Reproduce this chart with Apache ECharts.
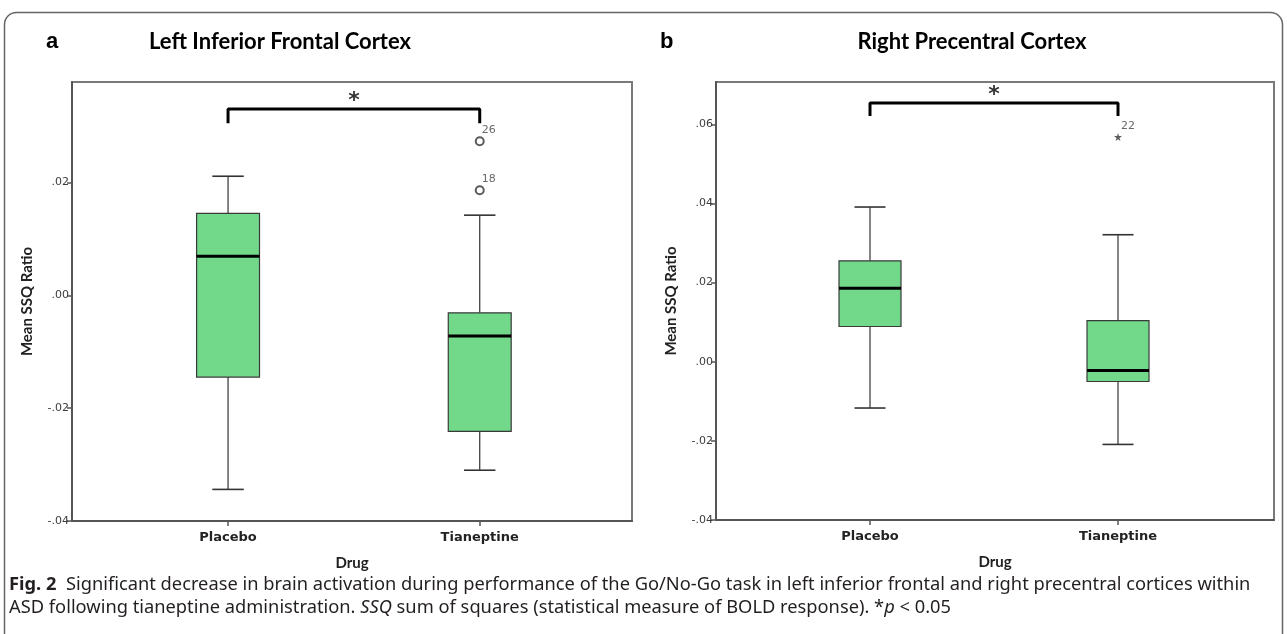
<!DOCTYPE html>
<html>
<head>
<meta charset="utf-8">
<script src="https://cdn.jsdelivr.net/npm/echarts@6/dist/echarts.min.js"></script>
<style>
html,body{margin:0;padding:0;background:#fff;}
#chart{width:1287px;height:634px;}
</style>
</head>
<body>
<div id="chart"></div>
<script>
// ---- data ----
const categories = ['Placebo', 'Tianeptine'];
// [min, Q1, median, Q3, max]
const leftStats = [
  [-0.0344, -0.0145, 0.0069, 0.0145, 0.0211],
  [-0.0310, -0.0241, -0.0072, -0.0031, 0.0142]
];
const rightStats = [
  [-0.0117, 0.0089, 0.0186, 0.0255, 0.0391],
  [-0.0209, -0.0050, -0.0022, 0.0104, 0.0321]
];
// outliers: [categoryIndex, value, case label]
const leftOutliers = [[1, 0.0273, '26'], [1, 0.0186, '18']];
const rightOutliers = [[1, 0.0568, '22']];
// significance brackets: [low end, top]
const leftBracket = [0.0305, 0.0330];
const rightBracket = [0.0621, 0.0654];
const leftStarY = 0.0343;
const rightStarY = 0.0673;
const leftTicks = [-0.04, -0.02, 0.00, 0.02];
const rightTicks = [-0.04, -0.02, 0.00, 0.02, 0.04, 0.06];
const leftYMax = 0.0378;
const rightYMax = 0.0707;

// ---- chart ----
const chart = echarts.init(document.getElementById('chart'), null, {renderer: 'canvas'});
const BOX_W = 0.25, CAP_W = 0.125;
const GREEN = '#72d98a';
const tickFmt = v => (v < -1e-9 ? '-' : '') + Math.abs(v).toFixed(2).replace(/^0/, '');

function boxData(stats) { return stats.map((s, i) => [i].concat(s)); }

function renderBox(params, api) {
  const x = api.value(0);
  const pMin = api.coord([x, api.value(1)]);
  const pQ1 = api.coord([x, api.value(2)]);
  const pMed = api.coord([x, api.value(3)]);
  const pQ3 = api.coord([x, api.value(4)]);
  const pMax = api.coord([x, api.value(5)]);
  const hw = api.size([BOX_W, 0])[0] / 2;
  const cw = api.size([CAP_W, 0])[0] / 2;
  const cx = pMed[0];
  const line = (x1, y1, x2, y2, w, c) => ({type: 'line', shape: {x1, y1, x2, y2}, style: {stroke: c || '#333', lineWidth: w || 1.2}});
  return {type: 'group', children: [
    line(cx, pMax[1], cx, pQ3[1]),
    line(cx, pQ1[1], cx, pMin[1]),
    line(cx - cw, pMax[1], cx + cw, pMax[1], 1.6),
    line(cx - cw, pMin[1], cx + cw, pMin[1], 1.6),
    {type: 'rect', shape: {x: cx - hw, y: pQ3[1], width: hw * 2, height: pQ1[1] - pQ3[1]},
      style: {fill: GREEN, stroke: '#3a3a3a', lineWidth: 1.2}},
    line(cx - hw, pMed[1], cx + hw, pMed[1], 3, '#000')
  ]};
}

function bracketData(b) { return [[0, b[0]], [0, b[1]], [1, b[1]], [1, b[0]]]; }

const STAR_PATH = 'path://M50,0 L61,35 L98,35 L68,57 L79,91 L50,70 L21,91 L32,57 L2,35 L39,35 Z';

function xAxisCfg(gi, min, max) {
  return {
    type: 'value', gridIndex: gi, min: min, max: max,
    name: 'Drug', nameLocation: 'middle', nameGap: 35,
    nameTextStyle: {fontFamily: 'Lato', fontWeight: 'bold', fontSize: 15, color: '#222'},
    axisLine: {show: true, onZero: false, lineStyle: {color: '#555', width: 2}},
    axisTick: {show: true, customValues: [0, 1], length: 5, lineStyle: {color: '#555', width: 1.5}},
    axisLabel: {show: true, customValues: [0, 1], formatter: v => categories[Math.round(v)],
      fontFamily: 'DejaVu Sans', fontWeight: 'bold', fontSize: 13, color: '#222', margin: 10},
    splitLine: {show: false}
  };
}
function yAxisCfg(gi, max, ticks) {
  return {
    type: 'value', gridIndex: gi, min: -0.04, max: max,
    name: 'Mean SSQ Ratio', nameLocation: 'middle', nameGap: 37,
    nameTextStyle: {fontFamily: 'Lato', fontWeight: 'bold', fontSize: 15, color: '#222'},
    axisLine: {show: true, onZero: false, lineStyle: {color: '#555', width: 2}},
    axisTick: {show: true, customValues: ticks, length: 5, lineStyle: {color: '#555', width: 1.5}},
    axisLabel: {show: true, customValues: ticks, formatter: tickFmt,
      fontFamily: 'DejaVu Sans', fontSize: 11, color: '#3c3c3c', margin: 3},
    splitLine: {show: false}
  };
}

function panelSeries(gi, stats, outliers, bracket, starY, outSymbol, outSize) {
  return [
    {type: 'custom', xAxisIndex: gi, yAxisIndex: gi, renderItem: renderBox, data: boxData(stats), z: 3},
    {type: 'scatter', xAxisIndex: gi, yAxisIndex: gi, symbol: outSymbol, symbolSize: outSize,
      itemStyle: {color: '#333', borderColor: '#333', borderWidth: outSymbol === 'emptyCircle' ? 1.3 : 0},
      label: {show: true, position: [outSize / 2 + 3, -outSize - 4], formatter: p => p.data[2],
        fontFamily: 'DejaVu Sans', fontSize: 11, color: '#444'},
      data: outliers, z: 4},
    {type: 'line', xAxisIndex: gi, yAxisIndex: gi, data: bracketData(bracket), symbol: 'none',
      lineStyle: {color: '#000', width: 3}, z: 4},
    {type: 'scatter', xAxisIndex: gi, yAxisIndex: gi, symbolSize: 0, data: [[0.5, starY]],
      label: {show: true, position: 'inside', formatter: '*', fontFamily: 'DejaVu Sans', fontWeight: 'bold', fontSize: 22, color: '#000'}, z: 4}
  ];
}

const txt = (x, y, text, style) => ({type: 'text', x: x, y: y, style: Object.assign({text: text, fill: '#000', textVerticalAlign: 'middle'}, style)});

const option = {
  backgroundColor: '#fff',
  animation: false,
  grid: [
    {left: 72, top: 82, width: 560, height: 439, show: true, borderColor: '#7a7a7a', borderWidth: 2},
    {left: 716, top: 82, width: 558, height: 438, show: true, borderColor: '#7a7a7a', borderWidth: 2}
  ],
  xAxis: [xAxisCfg(0, -0.62, 1.605), xAxisCfg(1, -0.621, 1.629)],
  yAxis: [yAxisCfg(0, leftYMax, leftTicks), yAxisCfg(1, rightYMax, rightTicks)],
  series: [].concat(
    panelSeries(0, leftStats, leftOutliers, leftBracket, leftStarY, 'emptyCircle', 8),
    panelSeries(1, rightStats, rightOutliers, rightBracket, rightStarY, STAR_PATH, 8)
  ),
  graphic: [
    {type: 'rect', shape: {x: 4.5, y: 12.5, width: 1278, height: 700, r: 12}, style: {fill: 'none', stroke: '#666', lineWidth: 1.5}, z: -1},
    txt(46, 42, 'a', {font: 'bold 22px "Liberation Sans"'}),
    txt(280, 42, 'Left Inferior Frontal Cortex', {font: 'bold 22px Lato', textAlign: 'center'}),
    txt(660, 42, 'b', {font: 'bold 22px "Liberation Sans"'}),
    txt(972, 42, 'Right Precentral Cortex', {font: 'bold 22px Lato', textAlign: 'center'}),
    {type: 'text', x: 9, y: 585, style: {
      text: '{b|Fig. 2}  Significant decrease in brain activation during performance of the Go/No-Go task in left inferior frontal and right precentral cortices within',
      font: '18.3px "Noto Sans"', fill: '#231f20', textVerticalAlign: 'middle',
      rich: {b: {font: 'bold 18.3px "Noto Sans"', fill: '#231f20'}}}},
    {type: 'text', x: 9, y: 608, style: {
      text: 'ASD following tianeptine administration. {i|SSQ} sum of squares (statistical measure of BOLD response). *{i|p} < 0.05',
      font: '18.3px "Noto Sans"', fill: '#231f20', textVerticalAlign: 'middle',
      rich: {i: {font: 'italic 18.3px "Noto Sans"', fill: '#231f20'}}}}
  ]
};
chart.setOption(option);
</script>
</body>
</html>
